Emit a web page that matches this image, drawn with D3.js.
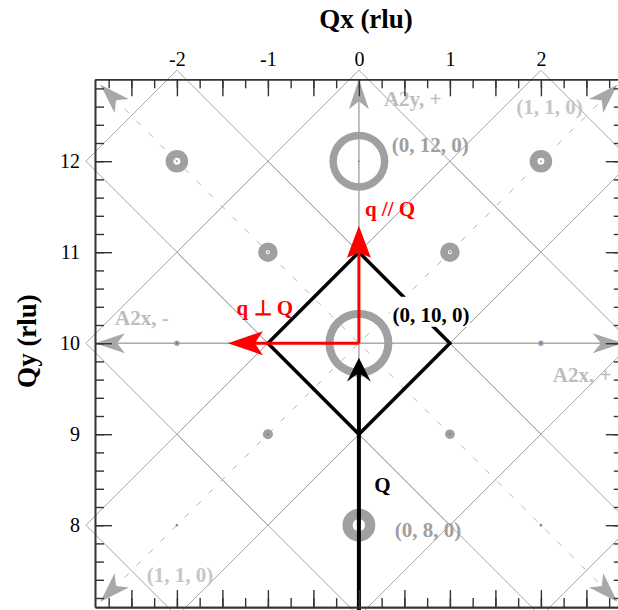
<!DOCTYPE html>
<html><head><meta charset="utf-8">
<script src="https://cdn.jsdelivr.net/npm/d3@7"></script>
<style>
html,body{margin:0;padding:0;background:#fff;overflow:hidden;}
svg{display:block;font-family:"Liberation Serif","Times New Roman",Times,serif;}
</style></head>
<body>
<svg id="chart" width="618" height="610"></svg>
<script>
// ---- data ----
const xTickLabels = [-2, -1, 0, 1, 2];
const yTickLabels = [8, 9, 10, 11, 12];
// Bragg peaks (H, K) with ring outer / inner radius in rlu
const peakH     = [0, -2, 2, -1, 1, 0, -2, 2, -1, 1, 0, -2, 2];
const peakK     = [12, 12, 12, 11, 11, 10, 10, 10, 9, 9, 8, 8, 8];
const peakOuter = [0.324, 0.124, 0.124, 0.107, 0.107, 0.368, 0.030, 0.030, 0.055, 0.053, 0.180, 0.014, 0.016];
const peakInner = [0.242, 0.038, 0.038, 0.022, 0.022, 0.280, 0, 0, 0, 0, 0.068, 0, 0];
// scattering diamond (black)
const diamondH = [0, 1, 0, -1];
const diamondK = [11, 10, 9, 10];
// vectors
const qParallelEnd = [0, 11.29];
const qPerpEnd = [-1.44, 10];
const bigQEnd = [0, 9.84];

(function () {
const svg = d3.select("#chart");
const x = d3.scaleLinear().domain([-2.9, 2.9]).range([95, 622.8]);
const y = d3.scaleLinear().domain([7.1, 12.9]).range([607.1, 79.3]);
const px = d => x(d) - x(0);

const GRID = "#a6a6a6", LIGHT = "#bdbdbd", RING = "#a0a0a0";

// ---- diamond grid ----
const gGrid = svg.append("g");
const centers = [];
for (let h = -2; h <= 2; h++) for (let k = 8; k <= 12; k++) if ((h + k) % 2 === 0) centers.push([h, k]);
const line = d3.line().x(d => x(d[0])).y(d => y(d[1]));
centers.forEach(([h, k]) => {
  gGrid.append("path")
    .attr("d", line([[h - 1, k], [h, k + 1], [h + 1, k], [h, k - 1]]) + "Z")
    .attr("fill", "none").attr("stroke", GRID).attr("stroke-width", 1);
});

// ---- arrowhead helper ----
function head(g, tip, angleDeg, L, W, N, color) {
  g.append("path")
    .attr("d", `M0,0L${-L},${-W}L${-N},0L${-L},${W}Z`)
    .attr("transform", `translate(${tip[0]},${tip[1]}) rotate(${angleDeg})`)
    .attr("fill", color).attr("stroke", "none");
}

// ---- dashed (1,1,0) lines ----
const gDash = svg.append("g");
const dEnd = 2.84;
[[[-dEnd, 10 - dEnd], [dEnd, 10 + dEnd]], [[-dEnd, 10 + dEnd], [dEnd, 10 - dEnd]]].forEach(seg => {
  gDash.append("path").attr("d", line(seg))
    .attr("stroke", "#b4b4b4").attr("stroke-width", 1).attr("stroke-dasharray", "6,11").attr("fill", "none");
});
head(gDash, [x(-dEnd), y(10 + dEnd)], -135, 30, 10, 22, "#a8a8a8");
head(gDash, [x(dEnd), y(10 + dEnd)], -45, 30, 10, 22, "#a8a8a8");
head(gDash, [x(-dEnd), y(10 - dEnd)], 135, 30, 10, 22, "#a8a8a8");
head(gDash, [x(dEnd), y(10 - dEnd)], 45, 30, 10, 22, "#a8a8a8");

// ---- A2x / A2y axes ----
const gA = svg.append("g");
gA.append("line").attr("x1", x(-2.9)).attr("x2", x(2.9)).attr("y1", y(10)).attr("y2", y(10))
  .attr("stroke", "#aaaaaa").attr("stroke-width", 1.5);
gA.append("line").attr("x1", x(0)).attr("x2", x(0)).attr("y1", y(7.1)).attr("y2", y(12.9))
  .attr("stroke", "#aaaaaa").attr("stroke-width", 1.5);
head(gA, [x(-2.9), y(10)], 180, 30, 10, 22, "#a8a8a8");
head(gA, [x(2.9), y(10)], 0, 30, 10, 22, "#a8a8a8");
head(gA, [x(0), y(12.9)], -90, 30, 10, 22, "#a8a8a8");

// ---- Bragg peaks ----
const gPk = svg.append("g");
peakH.forEach((h, i) => {
  const arc = d3.arc().innerRadius(px(peakInner[i])).outerRadius(px(peakOuter[i]))
    .startAngle(0).endAngle(2 * Math.PI);
  gPk.append("path").attr("d", arc())
    .attr("transform", `translate(${x(h)},${y(peakK[i])})`)
    .attr("fill", peakOuter[i] < 0.04 ? "#9d9db0" : RING);
  gPk.append("circle").attr("cx", x(h)).attr("cy", y(peakK[i])).attr("r", 0.8).attr("fill", "#5060c0");
});

// ---- black diamond ----
const dPts = diamondH.map((h, i) => [h, diamondK[i]]);
svg.append("path").attr("d", line(dPts) + "Z")
  .attr("fill", "none").attr("stroke", "#000").attr("stroke-width", 3.5).attr("stroke-linejoin", "miter");

// label background for (0,10,0)
svg.append("rect").attr("x", x(0.34)).attr("y", y(10.51)).attr("width", 80).attr("height", 30).attr("fill", "#fff");

// ---- Q vector (black) ----
svg.append("line").attr("x1", x(0)).attr("x2", x(0)).attr("y1", y(7.0)).attr("y2", y(bigQEnd[1]) + 14)
  .attr("stroke", "#000").attr("stroke-width", 4);
head(svg, [x(bigQEnd[0]), y(bigQEnd[1])], -90, 24, 12, 15, "#000");

// ---- red q vectors ----
svg.append("line").attr("x1", x(0)).attr("x2", x(0)).attr("y1", y(10)).attr("y2", y(qParallelEnd[1]) + 26)
  .attr("stroke", "#ff0000").attr("stroke-width", 3);
head(svg, [x(qParallelEnd[0]), y(qParallelEnd[1])], -90, 32, 12, 27, "#ff0000");
svg.append("line").attr("x1", x(0)).attr("x2", x(qPerpEnd[0]) + 26).attr("y1", y(10)).attr("y2", y(10))
  .attr("stroke", "#ff0000").attr("stroke-width", 3);
head(svg, [x(qPerpEnd[0]), y(qPerpEnd[1])], 180, 35, 12, 27, "#ff0000");

// ---- annotations ----
const ann = [
  ["A2y, +", 0.275, 12.61, LIGHT],
  ["(1, 1, 0)", 1.73, 12.52, "#c6c6c6"],
  ["(1, 1, 0)", -2.33, 7.38, "#c6c6c6"],
  ["(0, 12, 0)", 0.36, 12.10, RING],
  ["(0, 10, 0)", 0.37, 10.23, "#000"],
  ["(0, 8, 0)", 0.395, 7.87, RING],
  ["Q", 0.17, 8.37, "#000"],
  ["q // Q", 0.066, 11.40, "#ff0000"],
  ["q \u22A5 Q", -1.344, 10.31, "#ff0000"],
  ["A2x, -", -2.68, 10.20, LIGHT],
  ["A2x, +", 2.13, 9.575, LIGHT]
];
ann.forEach(a => {
  svg.append("text").attr("x", x(a[1])).attr("y", y(a[2])).text(a[0])
    .attr("fill", a[3]).attr("font-weight", "bold").attr("font-size", 21);
});

// ---- axes / frame ----
const AX = "#333";
const xMinor = d3.range(-2.75, 2.9, 0.25).map(v => +v.toFixed(2));
const xMajor = d3.range(-2.5, 2.9, 0.5).map(v => +v.toFixed(2));
const yMinor = d3.range(7.2, 12.9, 0.2).map(v => +v.toFixed(2));
const fmtX = d => xTickLabels.includes(d) ? String(d) : "";
const fmtY = d => yTickLabels.includes(d) ? String(d) : "";

function styleAxis(g) {
  g.selectAll("path.domain").attr("stroke", AX).attr("stroke-width", 1.6);
  g.selectAll(".tick line").attr("stroke", AX).attr("stroke-width", 1.4);
  g.selectAll("text").attr("fill", "#000").attr("font-size", 20)
    .attr("font-family", '"Liberation Serif","Times New Roman",Times,serif');
}
const gTop = svg.append("g").attr("transform", `translate(0,${y(12.9)})`);
gTop.call(d3.axisTop(x).tickValues(xMinor).tickSize(-9).tickSizeOuter(0).tickFormat(""));
gTop.append("g").call(d3.axisTop(x).tickValues(xMajor).tickSize(-17).tickSizeOuter(0).tickPadding(13).tickFormat(fmtX));
styleAxis(gTop);
const gBot = svg.append("g").attr("transform", `translate(0,${y(7.1)})`);
gBot.call(d3.axisBottom(x).tickValues(xMinor).tickSize(-9).tickSizeOuter(0).tickFormat(""));
gBot.append("g").call(d3.axisBottom(x).tickValues(xMajor).tickSize(-17).tickSizeOuter(0).tickFormat(""));
styleAxis(gBot);
const gLft = svg.append("g").attr("transform", `translate(${x(-2.9)},0)`);
gLft.call(d3.axisLeft(y).tickValues(yMinor).tickSize(-9).tickSizeOuter(0).tickFormat(""));
gLft.append("g").call(d3.axisLeft(y).tickValues(yTickLabels).tickSize(-17).tickSizeOuter(0).tickPadding(15).tickFormat(fmtY));
styleAxis(gLft);
const gRgt = svg.append("g").attr("transform", `translate(${x(2.9)},0)`);
gRgt.call(d3.axisRight(y).tickValues(yMinor).tickSize(-9).tickSizeOuter(0).tickFormat(""));
gRgt.append("g").call(d3.axisRight(y).tickValues(yTickLabels).tickSize(-17).tickSizeOuter(0).tickFormat(""));
styleAxis(gRgt);

// titles
svg.append("text").attr("x", 366).attr("y", 28).attr("text-anchor", "middle")
  .attr("font-weight", "bold").attr("font-size", 27).text("Qx (rlu)");
svg.append("text").attr("transform", `translate(36,341) rotate(-90)`).attr("text-anchor", "middle")
  .attr("font-weight", "bold").attr("font-size", 27).text("Qy (rlu)");
})();
</script>
</body></html>
